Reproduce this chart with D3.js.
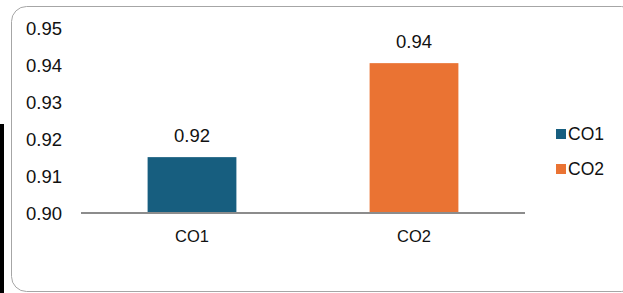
<!DOCTYPE html>
<html><head><meta charset="utf-8">
<script src="https://cdn.jsdelivr.net/npm/d3@7"></script>
<style>html,body{margin:0;padding:0;background:#fff;overflow:hidden}</style>
</head><body>
<svg id="c" width="623" height="293"></svg>
<script>
const categories = ["CO1", "CO2"];
const values = [0.9151, 0.9405];
const valueLabels = ["0.92", "0.94"];
const colors = ["#175E7F", "#EA7333"];
const yTicks = [0.90, 0.91, 0.92, 0.93, 0.94, 0.95];
const yTickLabels = ["0.90", "0.91", "0.92", "0.93", "0.94", "0.95"];

const svg = d3.select("#c");
const font = "Liberation Sans, Arial, sans-serif";

// outer frame
svg.append("rect").attr("x", 11.5).attr("y", 6.5).attr("width", 625).attr("height", 285)
  .attr("rx", 15).attr("fill", "#fff").attr("stroke", "#a6a6a6").attr("stroke-width", 1);
svg.append("rect").attr("x", 0).attr("y", 124).attr("width", 4).attr("height", 169).attr("fill", "#000");

const x = d3.scaleBand().domain(categories).range([81, 525]).paddingInner(0.6).paddingOuter(0.3);
const y = d3.scaleLinear().domain([0.90, 0.95]).range([213, 28]);

// y tick labels (no axis line)
const yAxis = d3.axisLeft(y).tickValues(yTicks).tickFormat((d, i) => yTickLabels[i]).tickSize(0).tickPadding(0);
const ya = svg.append("g").attr("transform", "translate(62,0)").call(yAxis);
ya.select(".domain").remove();
ya.selectAll("text").attr("font-family", font).attr("font-size", 18.5).attr("fill", "#111").attr("dy", "0.35em");

// bars
svg.selectAll("rect.bar").data(categories).enter().append("rect").attr("class", "bar")
  .attr("x", d => x(d)).attr("width", x.bandwidth())
  .attr("y", (d, i) => y(values[i])).attr("height", (d, i) => y(0.90) - y(values[i]))
  .attr("fill", (d, i) => colors[i]);

// value labels
svg.selectAll("text.vl").data(categories).enter().append("text").attr("class", "vl")
  .attr("x", d => x(d) + x.bandwidth() / 2).attr("y", (d, i) => y(values[i]) - 15.5)
  .attr("text-anchor", "middle").attr("font-family", font).attr("font-size", 18.5).attr("fill", "#111")
  .text((d, i) => valueLabels[i]);

// x axis
const xAxis = d3.axisBottom(x).tickSize(0).tickPadding(17.5);
const xa = svg.append("g").attr("transform", "translate(0,213)").call(xAxis);
xa.select(".domain").attr("stroke", "#8c8c8c").attr("stroke-width", 2).attr("d", "M81,0H525");
xa.selectAll("text").attr("font-family", font).attr("font-size", 16.5).attr("fill", "#111");

// legend
const lg = svg.append("g");
categories.forEach((c, i) => {
  const yy = 134 + i * 35;
  lg.append("rect").attr("x", 556).attr("y", yy - 5).attr("width", 10).attr("height", 10).attr("fill", colors[i]);
  lg.append("text").attr("x", 568).attr("y", yy).attr("dy", "0.35em").attr("font-family", font)
    .attr("font-size", 17.5).attr("fill", "#111").text(c);
});
</script>
</body></html>
